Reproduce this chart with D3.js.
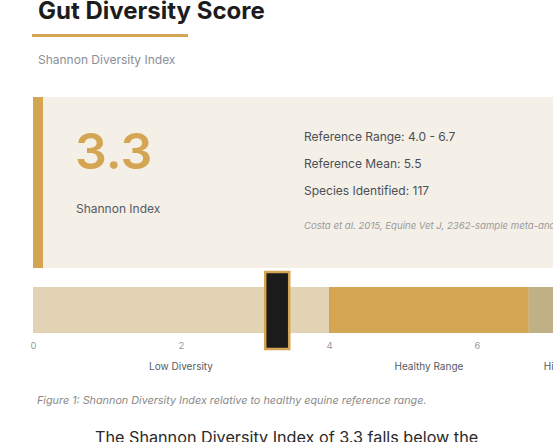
<!DOCTYPE html>
<html>
<head>
<meta charset="utf-8">
<script src="https://cdn.jsdelivr.net/npm/d3@7"></script>
<style>
  html, body { margin: 0; padding: 0; background: #ffffff; overflow: hidden; }
  svg { display: block; font-family: Inter, "Noto Sans", sans-serif; }
</style>
</head>
<body>
<svg id="chart" width="553" height="442"></svg>
<script>
// ---- data ----
const score = 3.3;
const scoreLabel = "3.3";
const rangeNames = ["Low Diversity", "Healthy Range", "High Diversity"];
const rangeStarts = [0, 4.0, 6.7];
const rangeEnds = [4.0, 6.7, 8];
const tickValues = [0, 2, 4, 6, 8];
const infoLines = ["Reference Range: 4.0 - 6.7", "Reference Mean: 5.5", "Species Identified: 117"];
const citation = "Costa et al. 2015, Equine Vet J, 2362-sample meta-analysis";

const svg = d3.select("#chart");
const gold = "#d4a553";
const rangeColors = ["#e3d3b5", gold, "#bfb086"];

// title
svg.append("text").attr("x", 38).attr("y", 19)
  .attr("font-size", 24).attr("font-weight", 700).attr("fill", "#1c1c1c")
  .text("Gut Diversity Score");
svg.append("rect").attr("x", 32).attr("y", 34).attr("width", 156).attr("height", 3).attr("fill", gold);
svg.append("text").attr("x", 38).attr("y", 64)
  .attr("font-size", 12).attr("fill", "#8a8e99").text("Shannon Diversity Index");

// card
svg.append("rect").attr("x", 33).attr("y", 97).attr("width", 560).attr("height", 171).attr("fill", "#f4efe7");
svg.append("rect").attr("x", 33).attr("y", 97).attr("width", 10).attr("height", 171).attr("fill", gold);
svg.append("text").attr("x", 75).attr("y", 169)
  .attr("font-size", 50).attr("font-weight", 600).attr("fill", gold).text(scoreLabel);
svg.append("text").attr("x", 76).attr("y", 213)
  .attr("font-size", 12).attr("fill", "#555a63").text("Shannon Index");
svg.selectAll("text.info").data(infoLines).join("text").attr("class", "info")
  .attr("x", 304).attr("y", (d, i) => 140.5 + i * 27)
  .attr("font-size", 12).attr("fill", "#4a4f58").text(d => d);
svg.append("text").attr("x", 304).attr("y", 229)
  .attr("font-size", 9.6).attr("font-style", "italic").attr("fill", "#9a9a9a").text(citation);

// scale bar
const x = d3.scaleLinear().domain([0, 8]).range([33, 625]);
const barY = 287, barH = 46;
const ranges = rangeNames.map((n, i) => ({ name: n, start: rangeStarts[i], end: rangeEnds[i], color: rangeColors[i] }));
svg.selectAll("rect.range").data(ranges).join("rect").attr("class", "range")
  .attr("x", d => x(d.start)).attr("y", barY)
  .attr("width", d => x(d.end) - x(d.start)).attr("height", barH)
  .attr("fill", d => d.color);

// axis
const axis = d3.axisBottom(x).tickValues(tickValues).tickSize(0).tickPadding(0).tickFormat(d3.format("d"));
const ag = svg.append("g").attr("transform", `translate(0, ${barY + barH + 9})`).call(axis);
ag.select(".domain").remove();
ag.selectAll("text").attr("font-family", "Inter, sans-serif").attr("font-size", 9.5).attr("fill", "#9a9a9a");

// range labels
svg.selectAll("text.rlabel").data(ranges).join("text").attr("class", "rlabel")
  .attr("x", d => x((d.start + d.end) / 2)).attr("y", 370)
  .attr("text-anchor", "middle").attr("font-size", 10).attr("fill", "#555a63").text(d => d.name);

// marker
const mw = 24;
svg.append("rect").attr("x", x(score) - mw / 2).attr("y", barY - 15)
  .attr("width", mw).attr("height", barH + 31)
  .attr("fill", "#1b1b1b").attr("stroke", gold).attr("stroke-width", 2.5);

// caption
svg.append("text").attr("x", 37).attr("y", 404)
  .attr("font-size", 10.8).attr("font-style", "italic").attr("fill", "#8a8a8a")
  .text("Figure 1: Shannon Diversity Index relative to healthy equine reference range.");

// body text
svg.append("text").attr("x", 95).attr("y", 443)
  .attr("font-size", 16.2).attr("fill", "#2a2a2a")
  .text("The Shannon Diversity Index of 3.3 falls below the");
</script>
</body>
</html>
